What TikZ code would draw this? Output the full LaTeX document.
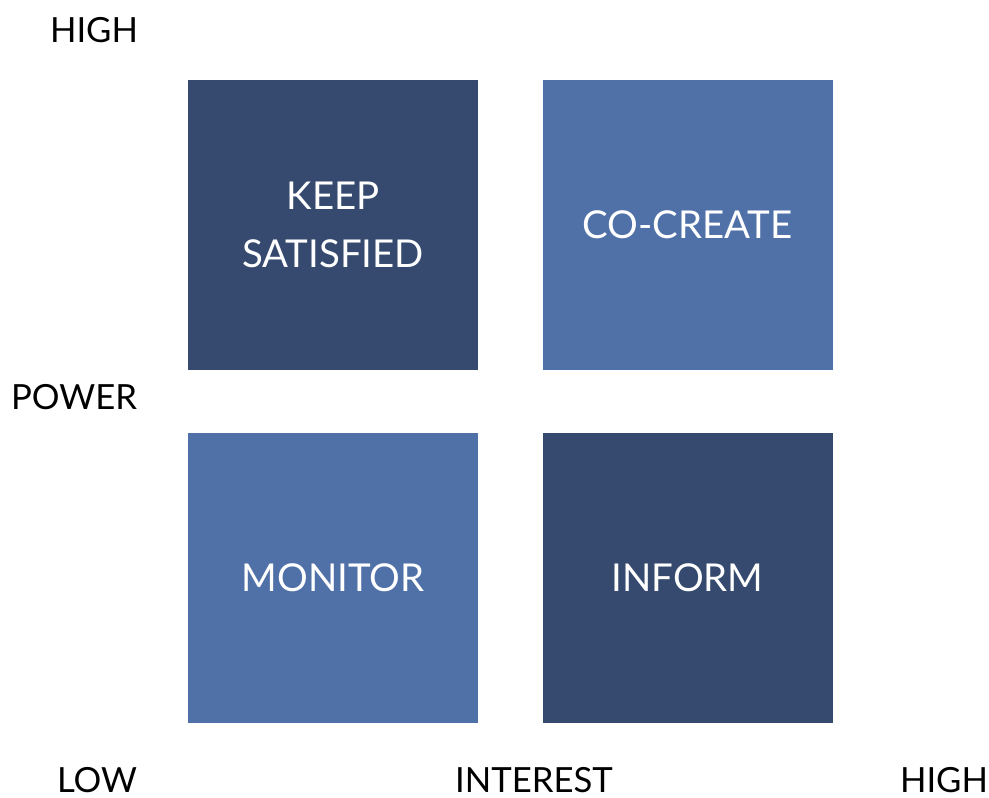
\documentclass[tikz,border=0pt]{standalone}
\usepackage{fontspec}
\setmainfont{Lato}
\usetikzlibrary{positioning}
\definecolor{quaddark}{HTML}{354A6E}
\definecolor{quadlight}{HTML}{5071A8}
\tikzset{
        quad/.style={rectangle, inner sep=0pt, minimum width=217.5pt, minimum height=217.5pt, align=center, text=white, font=\fontsize{28.8}{43.5}\selectfont},
        % dark quadrants
        quad_dark/.style={quad, fill=quaddark},
        % light quadrants
        quad_light/.style={quad, fill=quadlight},
        % axis labels
        axislabel/.style={inner sep=0pt, text=black, font=\fontsize{26}{30}\selectfont}
}
\begin{document}
\begin{tikzpicture}[x=0.75pt, y=-0.75pt]
    \useasboundingbox (0,0) rectangle (989,798);
    % quadrants
    \node[quad_dark]  (keep)    at (333,225)   {KEEP\\SATISFIED};
    \node[quad_light] (cocreate) at (687.5,225) {CO-CREATE};
    \node[quad_light] (monitor) at (333,578)   {MONITOR};
    \node[quad_dark]  (inform)  at (687.5,578) {INFORM};
    % axes
    \node[axislabel] (powhigh) at (94,30)   {HIGH};
    \node[axislabel] (power)   at (74,397)  {POWER};
    \node[axislabel] (low)     at (97,780)  {LOW};
    \node[axislabel] (interest) at (534,780) {INTEREST};
    \node[axislabel] (inthigh) at (944,780) {HIGH};
\end{tikzpicture}
\end{document}
